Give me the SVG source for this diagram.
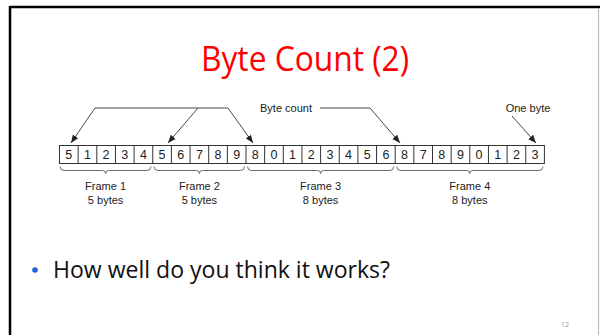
<svg xmlns="http://www.w3.org/2000/svg" width="600" height="335" viewBox="0 0 600 335">
<style>
.cell{fill:#fff;stroke:#333;stroke-width:1}
.sep{stroke:#333;stroke-width:1}
.dig{font-family:"Liberation Sans",Arial,sans-serif;font-size:12.5px;fill:#222;text-anchor:middle}
.lbl{font-family:"Liberation Sans",Arial,sans-serif;font-size:11px;fill:#222;text-anchor:middle}
.brace{fill:none;stroke:#444;stroke-width:0.8}
.conn{fill:none;stroke:#333;stroke-width:0.9}
</style>
<defs>
<marker id="ah" viewBox="0 0 10 10" refX="10" refY="5" markerWidth="8" markerHeight="8" markerUnits="userSpaceOnUse" orient="auto">
<path d="M0,1 L10,5 L0,9 Z" fill="#222"/>
</marker>
</defs>
<rect width="600" height="335" fill="#fff"/>
<g id="slide-border">
<line x1="10" y1="7" x2="600" y2="7" stroke="#000" stroke-width="2.5"/>
<line x1="10" y1="6" x2="10" y2="335" stroke="#000" stroke-width="2.5"/>
<line x1="598.5" y1="8" x2="598.5" y2="335" stroke="#bbb" stroke-width="1.2"/>
</g>
<g id="title">
<text x="305" y="71" font-family="'Open Sans','Noto Sans',sans-serif" font-size="34" fill="#ff0000" text-anchor="middle" textLength="208" lengthAdjust="spacingAndGlyphs">Byte Count (2)</text>
</g>
<g id="byte-row">
<rect class="cell" x="59.5" y="145.5" width="484.9" height="18"/>
<g class="sep">
<line x1="78.15" y1="145.5" x2="78.15" y2="163.5"/>
<line x1="96.8" y1="145.5" x2="96.8" y2="163.5"/>
<line x1="115.45" y1="145.5" x2="115.45" y2="163.5"/>
<line x1="134.1" y1="145.5" x2="134.1" y2="163.5"/>
<line x1="152.75" y1="145.5" x2="152.75" y2="163.5"/>
<line x1="171.4" y1="145.5" x2="171.4" y2="163.5"/>
<line x1="190.05" y1="145.5" x2="190.05" y2="163.5"/>
<line x1="208.7" y1="145.5" x2="208.7" y2="163.5"/>
<line x1="227.35" y1="145.5" x2="227.35" y2="163.5"/>
<line x1="246" y1="145.5" x2="246" y2="163.5"/>
<line x1="264.65" y1="145.5" x2="264.65" y2="163.5"/>
<line x1="283.3" y1="145.5" x2="283.3" y2="163.5"/>
<line x1="301.95" y1="145.5" x2="301.95" y2="163.5"/>
<line x1="320.6" y1="145.5" x2="320.6" y2="163.5"/>
<line x1="339.25" y1="145.5" x2="339.25" y2="163.5"/>
<line x1="357.9" y1="145.5" x2="357.9" y2="163.5"/>
<line x1="376.55" y1="145.5" x2="376.55" y2="163.5"/>
<line x1="395.2" y1="145.5" x2="395.2" y2="163.5"/>
<line x1="413.85" y1="145.5" x2="413.85" y2="163.5"/>
<line x1="432.5" y1="145.5" x2="432.5" y2="163.5"/>
<line x1="451.15" y1="145.5" x2="451.15" y2="163.5"/>
<line x1="469.8" y1="145.5" x2="469.8" y2="163.5"/>
<line x1="488.45" y1="145.5" x2="488.45" y2="163.5"/>
<line x1="507.1" y1="145.5" x2="507.1" y2="163.5"/>
<line x1="525.75" y1="145.5" x2="525.75" y2="163.5"/>
</g>
<text class="dig" x="68.8" y="159">5</text>
<text class="dig" x="87.5" y="159">1</text>
<text class="dig" x="106.1" y="159">2</text>
<text class="dig" x="124.8" y="159">3</text>
<text class="dig" x="143.4" y="159">4</text>
<text class="dig" x="162.1" y="159">5</text>
<text class="dig" x="180.7" y="159">6</text>
<text class="dig" x="199.4" y="159">7</text>
<text class="dig" x="218" y="159">8</text>
<text class="dig" x="236.7" y="159">9</text>
<text class="dig" x="255.3" y="159">8</text>
<text class="dig" x="274" y="159">0</text>
<text class="dig" x="292.6" y="159">1</text>
<text class="dig" x="311.3" y="159">2</text>
<text class="dig" x="329.9" y="159">3</text>
<text class="dig" x="348.6" y="159">4</text>
<text class="dig" x="367.2" y="159">5</text>
<text class="dig" x="385.9" y="159">6</text>
<text class="dig" x="404.5" y="159">8</text>
<text class="dig" x="423.2" y="159">7</text>
<text class="dig" x="441.8" y="159">8</text>
<text class="dig" x="460.5" y="159">9</text>
<text class="dig" x="479.1" y="159">0</text>
<text class="dig" x="497.8" y="159">1</text>
<text class="dig" x="516.4" y="159">2</text>
<text class="dig" x="535.1" y="159">3</text>
</g>
<g id="frame1">
<path class="brace" d="M60,166.5 q0,4 4,4 H102.6 q3,0 3,3 q0,-3 3,-3 H147 q4,0 4,-4"/>
<text class="lbl" x="105.6" y="190">Frame 1</text>
<text class="lbl" x="105.6" y="204">5 bytes</text>
</g>
<g id="frame2">
<path class="brace" d="M154,166.5 q0,4 4,4 H196.4 q3,0 3,3 q0,-3 3,-3 H240.5 q4,0 4,-4"/>
<text class="lbl" x="199.4" y="190">Frame 2</text>
<text class="lbl" x="199.4" y="204">5 bytes</text>
</g>
<g id="frame3">
<path class="brace" d="M247.5,166.5 q0,4 4,4 H317.6 q3,0 3,3 q0,-3 3,-3 H389.7 q4,0 4,-4"/>
<text class="lbl" x="320.6" y="190">Frame 3</text>
<text class="lbl" x="320.6" y="204">8 bytes</text>
</g>
<g id="frame4">
<path class="brace" d="M396.7,166.5 q0,4 4,4 H466.8 q3,0 3,3 q0,-3 3,-3 H539 q4,0 4,-4"/>
<text class="lbl" x="469.8" y="190">Frame 4</text>
<text class="lbl" x="469.8" y="204">8 bytes</text>
</g>
<g id="byte-count-label">
<text class="lbl" x="286" y="112">Byte count</text>
</g>
<g id="one-byte-label">
<text class="lbl" x="528" y="112">One byte</text>
</g>
<g id="connectors">
<polyline class="conn" points="228,108 95,108 71,143" marker-end="url(#ah)"/>
<line class="conn" x1="198" y1="108" x2="168" y2="143" marker-end="url(#ah)"/>
<line class="conn" x1="228" y1="108" x2="253" y2="143" marker-end="url(#ah)"/>
<polyline class="conn" points="320,108 370,108 400,143" marker-end="url(#ah)"/>
<line class="conn" x1="512" y1="116" x2="536" y2="143" marker-end="url(#ah)"/>
</g>
<g id="bullet">
<circle cx="35" cy="270" r="2.8" fill="#1a66d9"/>
<text x="53" y="278" font-family="'Open Sans','Noto Sans',sans-serif" font-size="24" fill="#111" textLength="337" lengthAdjust="spacingAndGlyphs">How well do you think it works?</text>
</g>
<g id="page-number">
<text x="565" y="327" font-family="'Open Sans','Noto Sans',sans-serif" font-size="7" fill="#999" text-anchor="middle">12</text>
</g>
</svg>
